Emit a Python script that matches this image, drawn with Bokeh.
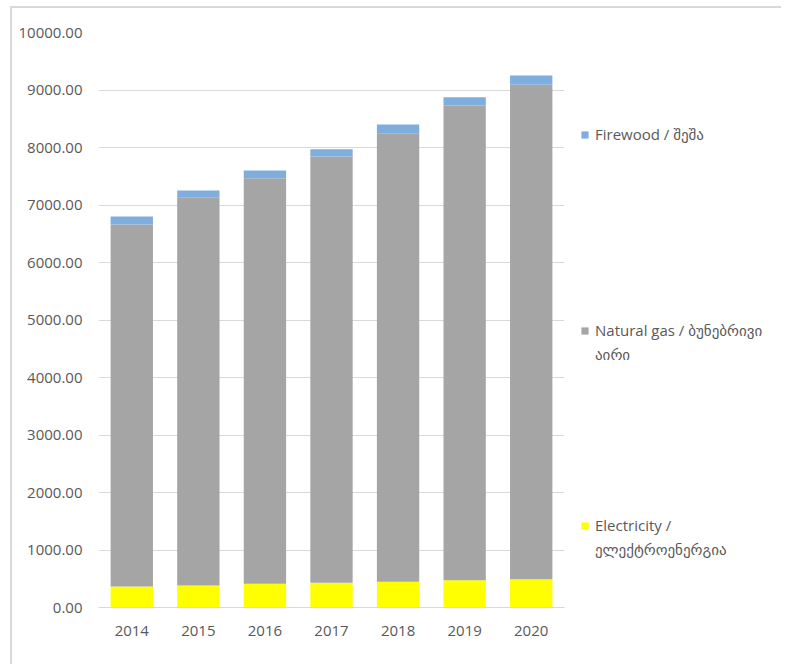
from bokeh.plotting import figure
from bokeh.layouts import row
from bokeh.models import (Legend, LegendItem, NumeralTickFormatter, SingleIntervalTicker)
from bokeh.embed import file_html
from bokeh.resources import INLINE

years = ["2014", "2015", "2016", "2017", "2018", "2019", "2020"]
electricity = [365, 383, 412, 429, 447, 475, 492]
natural_gas = [6296, 6742, 7055, 7414, 7802, 8255, 8598]
firewood = [139, 127, 133, 128, 151, 145, 162]

series = ["electricity", "natural_gas", "firewood"]
colors = ["#FFFF00", "#A5A5A5", "#7FAEDE"]
legend_lines = [["Electricity /", "ელექტროენერგია"],
                ["Natural gas / ბუნებრივი", "აირი"],
                ["Firewood / შეშა"]]

FONT = "Open Sans, DejaVu Sans"
TXT = "#595959"

data = dict(years=years, electricity=electricity, natural_gas=natural_gas, firewood=firewood)

p = figure(x_range=years, y_range=(0, 10000), width=562, height=658,
           output_backend="svg", toolbar_location=None,
           min_border_left=86, min_border_right=10, min_border_top=24, min_border_bottom=59)
p.styles = {"border-top": "2px solid #d9d9d9", "border-left": "2px solid #d9d9d9",
            "margin-left": "10px", "margin-top": "6px"}

p.vbar_stack(series, x="years", width=0.636, color=colors, line_color=None, source=data)

p.outline_line_color = None
p.xgrid.grid_line_color = None
p.ygrid.grid_line_color = "#d9d9d9"
p.ygrid.grid_line_width = 1

p.yaxis.ticker = SingleIntervalTicker(interval=1000)
p.yaxis.formatter = NumeralTickFormatter(format="0.00")
p.yaxis.axis_line_color = None
p.yaxis.major_tick_line_color = None
p.yaxis.minor_tick_line_color = None
p.yaxis.major_label_standoff = 10

p.xaxis.axis_line_color = "#d9d9d9"
p.xaxis.major_tick_line_color = None
p.xaxis.minor_tick_line_color = None
p.xaxis.major_label_standoff = 12

for ax in (p.xaxis[0], p.yaxis[0]):
    ax.major_label_text_font = FONT
    ax.major_label_text_font_size = "15px"
    ax.major_label_text_color = TXT

# legend panel: same stacked series (zero-width, so not drawn); the legend swatches come from them
p2 = figure(width=209, height=658, x_range=years, y_range=(0, 10000),
            output_backend="svg", toolbar_location=None,
            x_axis_location=None, y_axis_location=None, min_border=0)
p2.styles = {"border-top": "2px solid #d9d9d9", "margin-top": "6px"}
p2.grid.visible = False
p2.outline_line_color = None

swatches = p2.vbar_stack(series, x="years", width=0, color=colors, line_color=None, source=data)
blank = p2.vbar(x=[], top=[], width=1, fill_alpha=0, line_alpha=0)

legend_y = [48, 243, 463]
for sw, lines, ly in zip(swatches, legend_lines, legend_y):
    items = [LegendItem(label=lines[0], renderers=[sw])]
    items += [LegendItem(label=t, renderers=[blank]) for t in lines[1:]]
    lg = Legend(items=items, location=(8, ly), orientation="vertical",
                padding=0, margin=0, spacing=4, border_line_color=None,
                background_fill_alpha=0, glyph_width=9, glyph_height=9,
                label_standoff=6, label_height=20,
                label_text_font=FONT, label_text_font_size="15px", label_text_color=TXT)
    p2.add_layout(lg, "center")

layout = row(p, p2)
open("out.html", "w").write(file_html(layout, INLINE))
